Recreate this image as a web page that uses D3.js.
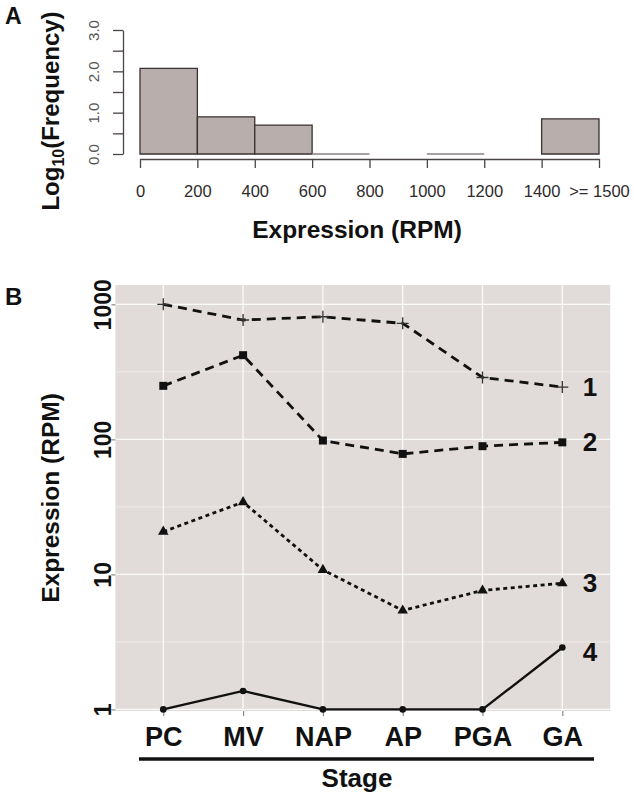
<!DOCTYPE html>
<html>
<head>
<meta charset="utf-8">
<script src="https://cdn.jsdelivr.net/npm/d3@7"></script>
<style>
  html, body { margin: 0; padding: 0; background: #fff; }
  svg { display: block; font-family: "Liberation Sans", Arial, Helvetica, sans-serif; }
</style>
</head>
<body>
<svg id="chart" width="634" height="801"></svg>
<script>
// ---------- Panel A data (histogram, log10 frequency) ----------
const binEdges = [0, 200, 400, 600, 800, 1000, 1200, 1400, 1600];
const binLog10Freq = [2.07, 0.90, 0.70, 0, null, 0, null, 0.85];
const histTickValues = [0, 200, 400, 600, 800, 1000, 1200, 1400, 1600];
const histTickLabels = ["0", "200", "400", "600", "800", "1000", "1200", "1400", ">= 1500"];
const histYTicks = [0, 0.5, 1, 1.5, 2, 2.5, 3];
const histYLabels = ["0.0", "", "1.0", "", "2.0", "", "3.0"];

// ---------- Panel B data (expression by stage, RPM) ----------
const stages = ["PC", "MV", "NAP", "AP", "PGA", "GA"];
const series1 = [1000, 765, 809, 723, 287, 244];
const series2 = [249, 420, 98, 78, 89, 95];
const series3 = [20.7, 34.3, 10.8, 5.4, 7.6, 8.6];
const series4 = [1, 1.37, 1, 1, 1, 2.87];
const seriesNames = ["1", "2", "3", "4"];
const yMajorTicks = [1, 10, 100, 1000];
const yMinorTicks = [Math.sqrt(10), Math.sqrt(1000), Math.sqrt(100000)];

const svg = d3.select("#chart");
const FONT = '"Liberation Sans", Arial, Helvetica, sans-serif';

// ================= PANEL A =================
const xA = d3.scaleLinear().domain([0, 1600]).range([140, 599]);
const yA = d3.scaleLinear().domain([0, 3]).range([154, 30]);
const axisCol = "#4a4444";
const gA = svg.append("g");

// bars
const bars = binLog10Freq.map((v, i) => ({ x0: binEdges[i], x1: binEdges[i + 1], v }))
  .filter(d => d.v !== null);
gA.selectAll("path.bar").data(bars).enter().append("path")
  .attr("class", "bar")
  .attr("d", d => {
    const x0 = xA(d.x0), x1 = xA(d.x1), y0 = yA(0), y1 = yA(d.v);
    return `M${x0},${y0}L${x0},${y1}L${x1},${y1}L${x1},${y0}Z`;
  })
  .attr("fill", d => d.v > 0 ? "#b8afac" : "none")
  .attr("stroke", d => d.v > 0 ? "#3a3232" : "#8a8282")
  .attr("stroke-width", d => d.v > 0 ? 1.3 : 1.6);

// x axis
const xAxisA = d3.axisBottom(xA)
  .tickValues(histTickValues)
  .tickFormat((d, i) => histTickLabels[i])
  .tickSize(9).tickSizeOuter(0).tickPadding(17);
const gxA = gA.append("g").attr("transform", "translate(0,159)").call(xAxisA);
gxA.select(".domain").attr("stroke", axisCol).attr("stroke-width", 1.3);
gxA.selectAll(".tick line").attr("stroke", axisCol).attr("stroke-width", 1.3);
gxA.selectAll(".tick text").attr("font-size", 16.5).attr("fill", "#2e2a2a")
  .attr("font-family", FONT);

// y axis
const yAxisA = d3.axisLeft(yA)
  .tickValues(histYTicks)
  .tickFormat((d, i) => histYLabels[i])
  .tickSize(10).tickSizeOuter(0);
const gyA = gA.append("g").attr("transform", "translate(123,0)").call(yAxisA);
gyA.select(".domain").attr("stroke", axisCol).attr("stroke-width", 1.3);
gyA.selectAll(".tick line").attr("stroke", axisCol).attr("stroke-width", 1.3);
gyA.selectAll(".tick text")
  .attr("x", null).attr("dy", "0.35em")
  .attr("transform", "translate(-29,0) rotate(-90)")
  .attr("text-anchor", "middle")
  .attr("font-size", 15).attr("fill", "#555")
  .attr("font-family", FONT);

// titles
gA.append("text").attr("x", 357).attr("y", 238)
  .attr("text-anchor", "middle").attr("font-weight", "bold").attr("font-size", 24.5)
  .attr("fill", "#111").text("Expression (RPM)");
const ytA = gA.append("text")
  .attr("transform", "translate(59,111) rotate(-90)")
  .attr("text-anchor", "middle").attr("font-weight", "bold").attr("font-size", 24)
  .attr("fill", "#111");
ytA.append("tspan").text("Log");
ytA.append("tspan").attr("font-size", 16).attr("dy", 5).text("10");
ytA.append("tspan").attr("dy", -5).text("(Frequency)");
gA.append("text").attr("x", 5).attr("y", 24)
  .attr("font-weight", "bold").attr("font-size", 23).attr("fill", "#111").text("A");

// ================= PANEL B =================
const panel = { left: 115.4, right: 610.2, top: 285, bottom: 711 };
const xB = d3.scalePoint().domain(stages).range([panel.left, panel.right]).padding(0.6);
const yB = d3.scaleLog().domain([0.973, 1390]).range([panel.bottom, panel.top]);
const gB = svg.append("g");

gB.append("rect")
  .attr("x", panel.left).attr("y", panel.top)
  .attr("width", panel.right - panel.left).attr("height", panel.bottom - panel.top)
  .attr("fill", "#e1dcd9");

// grid
gB.selectAll("line.minor").data(yMinorTicks).enter().append("line")
  .attr("x1", panel.left).attr("x2", panel.right)
  .attr("y1", d => yB(d)).attr("y2", d => yB(d))
  .attr("stroke", "#f2efed").attr("stroke-width", 0.7);
gB.selectAll("line.majY").data(yMajorTicks).enter().append("line")
  .attr("x1", panel.left).attr("x2", panel.right)
  .attr("y1", d => yB(d)).attr("y2", d => yB(d))
  .attr("stroke", "#fbfafa").attr("stroke-width", 1.3);
gB.selectAll("line.majX").data(stages).enter().append("line")
  .attr("x1", d => xB(d)).attr("x2", d => xB(d))
  .attr("y1", panel.top).attr("y2", panel.bottom)
  .attr("stroke", "#fbfafa").attr("stroke-width", 1.3);

// axes
const xAxisB = d3.axisBottom(xB).tickSize(5).tickSizeOuter(0).tickPadding(11);
const gxB = gB.append("g").attr("transform", `translate(0,${panel.bottom})`).call(xAxisB);
gxB.select(".domain").remove();
gxB.selectAll(".tick line").attr("stroke", "#8a8a8a").attr("stroke-width", 1.2);
gxB.selectAll(".tick text").attr("font-size", 27).attr("font-weight", "bold")
  .attr("fill", "#111").attr("font-family", FONT);

const yAxisB = d3.axisLeft(yB).tickValues(yMajorTicks).tickFormat(d3.format("d"))
  .tickSize(4).tickSizeOuter(0);
const gyB = gB.append("g").attr("transform", `translate(${panel.left},0)`).call(yAxisB);
gyB.select(".domain").remove();
gyB.selectAll(".tick line").attr("stroke", "#8a8a8a").attr("stroke-width", 1.2);
gyB.selectAll(".tick text")
  .attr("x", null).attr("dy", "0.36em")
  .attr("transform", "translate(-13,0) rotate(-90)")
  .attr("text-anchor", "middle")
  .attr("font-size", 23).attr("font-weight", "bold").attr("fill", "#111")
  .attr("font-family", FONT);

// series
const allSeries = [series1, series2, series3, series4];
const dashes = ["9,6", "9,6", "4,3.5", null];
const widths = [2.8, 2.8, 2.8, 2.4];
const line = d3.line().x((d, i) => xB(stages[i])).y(d => yB(d));
allSeries.forEach((s, k) => {
  gB.append("path").datum(s).attr("d", line)
    .attr("fill", "none").attr("stroke", "#111")
    .attr("stroke-width", widths[k])
    .attr("stroke-dasharray", dashes[k]);
});
// markers
gB.selectAll("path.plus").data(series1).enter().append("path")
  .attr("transform", (d, i) => `translate(${xB(stages[i])},${yB(d)})`)
  .attr("d", "M-6,0H6M0,-6V6").attr("stroke", "#333").attr("stroke-width", 1.3);
gB.selectAll("path.sq").data(series2).enter().append("path")
  .attr("transform", (d, i) => `translate(${xB(stages[i])},${yB(d)})`)
  .attr("d", d3.symbol(d3.symbolSquare, 64)).attr("fill", "#111");
gB.selectAll("path.tri").data(series3).enter().append("path")
  .attr("transform", (d, i) => `translate(${xB(stages[i])},${yB(d)})`)
  .attr("d", d3.symbol(d3.symbolTriangle, 48)).attr("fill", "#111");
gB.selectAll("circle.pt").data(series4).enter().append("circle")
  .attr("cx", (d, i) => xB(stages[i])).attr("cy", d => yB(d))
  .attr("r", 3.3).attr("fill", "#111");

// right-side series labels
gB.selectAll("text.sname").data(allSeries).enter().append("text")
  .attr("x", 590).attr("y", (s, k) => yB(s[s.length - 1]) + [9, 9, 9, 13][k])
  .attr("text-anchor", "middle").attr("font-size", 26).attr("font-weight", "bold")
  .attr("fill", "#111").text((s, k) => seriesNames[k]);

// Stage underline and title
gB.append("line").attr("x1", 139).attr("x2", 594).attr("y1", 759).attr("y2", 759)
  .attr("stroke", "#111").attr("stroke-width", 3.5);
gB.append("text").attr("x", 357).attr("y", 787)
  .attr("text-anchor", "middle").attr("font-size", 26).attr("font-weight", "bold")
  .attr("fill", "#111").text("Stage");
gB.append("text")
  .attr("transform", `translate(59,${(panel.top + panel.bottom) / 2}) rotate(-90)`)
  .attr("text-anchor", "middle").attr("font-weight", "bold").attr("font-size", 24.5)
  .attr("fill", "#111").text("Expression (RPM)");
gB.append("text").attr("x", 5).attr("y", 305)
  .attr("font-weight", "bold").attr("font-size", 24).attr("fill", "#111").text("B");
</script>
</body>
</html>
